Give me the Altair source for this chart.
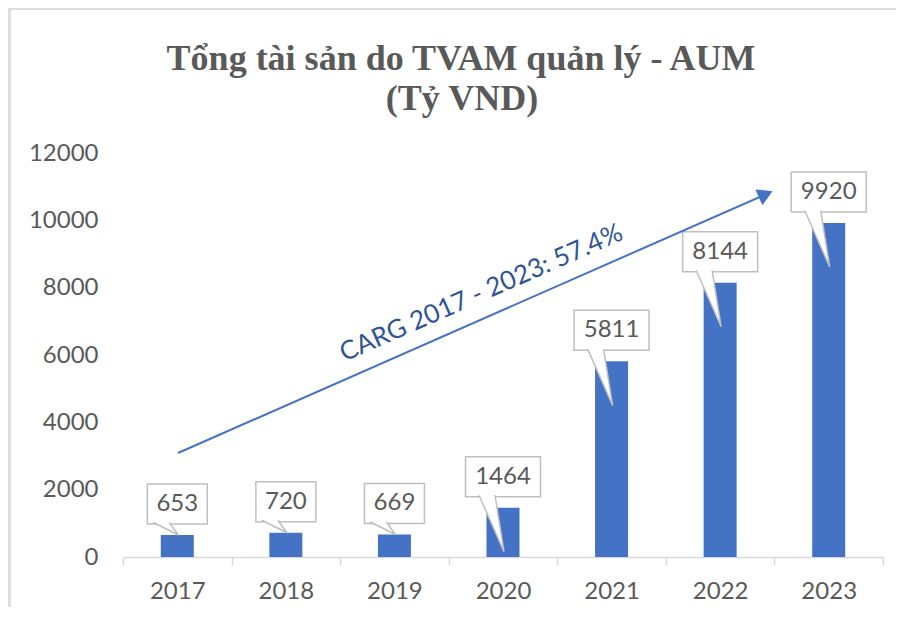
import altair as alt
import pandas as pd

# ---- data ----
years = ["2017", "2018", "2019", "2020", "2021", "2022", "2023"]
aum = [653, 720, 669, 1464, 5811, 8144, 9920]
y_ticks = [0, 2000, 4000, 6000, 8000, 10000, 12000]
title_lines = ["Tổng tài sản do TVAM quản lý - AUM", "(Tỷ VND)"]
cagr_label = ["CARG 2017 - 2023: 57.4%"]
# trend arrow in data space: (category index, value)
arrow_start = [0.507, 3090]
arrow_end = [5.92, 10773]
cagr_pos = [3.30, 7840]

# ---- layout / style ----
W, H = 760, 404
BAND = W / len(years)
PX = 12000 / H  # data units per pixel
FONT = "Lato"
GREY = "#595959"
BLUE = "#4472C4"

df = pd.DataFrame({"year": years, "aum": aum, "idx": list(range(len(years)))})
wedge_df = pd.DataFrame(
    [{"idx": i, "aum": v, "k": k} for i, v in enumerate(aum) for k in range(3)]
)
arrow_df = pd.DataFrame(
    {"x0": [arrow_start[0]], "y0": [arrow_start[1]],
     "x1": [arrow_end[0]], "y1": [arrow_end[1]]}
)
cagr_df = pd.DataFrame({"x": [cagr_pos[0]], "y": [cagr_pos[1]], "t": cagr_label})
title_df = pd.DataFrame({"t": title_lines})


def Y(field):
    return alt.Y(
        field,
        scale=alt.Scale(domain=[0, 12000], nice=False),
        axis=alt.Axis(
            values=y_ticks, title=None, grid=False, domain=False, ticks=False,
            format="d", labelPadding=25, labelFont=FONT, labelFontSize=24,
            labelColor=GREY,
        ),
    )


x_band = alt.X(
    "year:N", sort=years,
    scale=alt.Scale(paddingInner=0, paddingOuter=0),
    axis=alt.Axis(
        title=None, labelAngle=0, tickBand="extent", domainColor="#D9D9D9",
        tickColor="#D9D9D9", tickSize=8, domainWidth=1.5, tickWidth=1.5,
        labelFont=FONT, labelFontSize=24, labelColor=GREY, labelPadding=14,
    ),
)


def x_q(f):
    return alt.X(f, scale=alt.Scale(domain=[0, len(years)], nice=False, zero=False), axis=None)


base = alt.Chart(df)
bars = base.mark_bar(size=33, color=BLUE).encode(x=x_band, y=Y("aum:Q"))
boxes = (
    base.transform_calculate(bw="length(toString(datum.aum)) * 15 + 15")
    .mark_bar(fill="white", stroke="#BFBFBF", strokeWidth=1.5, yOffset=-51, y2Offset=-11)
    .encode(x=x_band, y=Y("aum:Q"), y2="aum:Q", size=alt.Size("bw:Q", scale=None))
)
labels = base.mark_text(font=FONT, fontSize=24, color=GREY, dy=-31, baseline="middle").encode(
    x=x_band, y=Y("aum:Q"), text=alt.Text("aum:Q", format="d")
)

wedges = (
    alt.Chart(wedge_df)
    .transform_calculate(
        wx=f"datum.idx + 0.5 + (datum.k == 0 ? -24 : (datum.k == 1 ? 1 : -8)) / {BAND}",
        wy=f"datum.k == 1 ? (datum.aum > 1000 ? datum.aum - 44 * {PX} : datum.aum) : datum.aum + 12.5 * {PX}",
    )
    .mark_line(fill="white", stroke="#BFBFBF", strokeWidth=1.5)
    .encode(x=x_q("wx:Q"), y=Y("wy:Q"), detail="idx:N", order="k:O")
)

arrow = alt.Chart(arrow_df).mark_rule(color=BLUE, strokeWidth=2).encode(
    x=x_q("x0:Q"), y=Y("y0:Q"), x2="x1:Q", y2="y1:Q"
)
head = alt.Chart(arrow_df).mark_point(
    shape="triangle-up", size=300, filled=True, color=BLUE, opacity=1, angle=66.3
).encode(x=x_q("x1:Q"), y=Y("y1:Q"))
cagr = alt.Chart(cagr_df).mark_text(
    font=FONT, fontSize=26, color="#2F5597", angle=336.3, align="center", baseline="middle"
).encode(x=x_q("x:Q"), y=Y("y:Q"), text="t:N")

frame_l = alt.Chart(df).mark_rule(color="#DDDDDD", strokeWidth=2).encode(
    x=alt.value(-113.5), y=alt.value(-144.5), y2=alt.value(470)
)
frame_t = alt.Chart(df).mark_rule(color="#DDDDDD", strokeWidth=2).encode(
    x=alt.value(-113.5), x2=alt.value(790), y=alt.value(-144.5)
)

title_style = dict(font="Liberation Serif", fontSize=36, fontWeight="bold",
                   color=GREY, align="center", baseline="alphabetic")
title1 = alt.Chart(title_df).transform_filter(alt.datum.t == title_lines[0]).mark_text(
    **title_style).encode(x=alt.value(338), y=alt.value(-83), text="t:N")
title2 = alt.Chart(title_df).transform_filter(alt.datum.t == title_lines[1]).mark_text(
    **title_style).encode(x=alt.value(339), y=alt.value(-43), text="t:N")

chart = (
    alt.layer(
        alt.layer(bars, boxes, labels),
        alt.layer(wedges, arrow, head, cagr, frame_l, frame_t, title1, title2),
    )
    .resolve_scale(x="independent")
    .properties(
        width=W, height=H,
        background="white",
        autosize=alt.AutoSizeParams(type="none"),
        padding={"left": 115, "top": 145, "right": 13, "bottom": 50},
    )
    .configure_view(stroke="transparent", strokeWidth=0)
)

chart.save("out.html", embed_options={"renderer": "svg", "actions": False})
